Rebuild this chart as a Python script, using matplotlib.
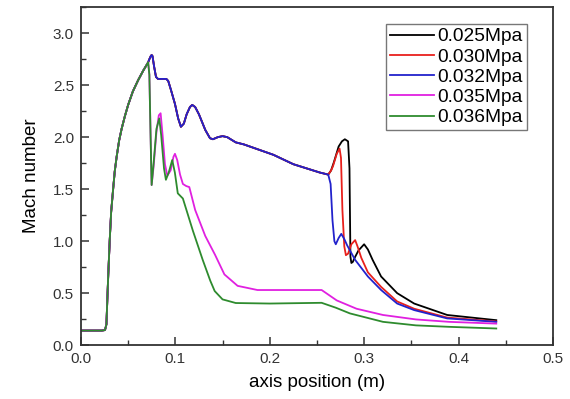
import matplotlib.pyplot as plt
from matplotlib.ticker import MultipleLocator

plt.rcParams['font.family'] = ['Liberation Sans', 'DejaVu Sans']

# common rise of all curves (inlet region)
x_rise = [0.0, 0.022, 0.0255, 0.027, 0.028, 0.029, 0.0305, 0.032, 0.034, 0.0358,
          0.0378, 0.0405, 0.0431, 0.0465, 0.050, 0.055, 0.0607, 0.066, 0.0706, 0.0712]
y_rise = [0.14, 0.14, 0.145, 0.2, 0.45, 0.69, 1.01, 1.28, 1.49, 1.67,
          1.81, 1.97, 2.08, 2.2, 2.31, 2.44, 2.55, 2.64, 2.71, 2.72]

# 0.032 MPa upper branch (shared by 0.025 / 0.030 up to the shock)
x_upper = [0.0725, 0.074, 0.0749, 0.0758, 0.0775, 0.0795, 0.0816, 0.086, 0.0905, 0.0925,
           0.0955, 0.0996, 0.103, 0.1059, 0.109, 0.112, 0.1155, 0.1179, 0.121, 0.125,
           0.1317, 0.1367, 0.1398, 0.145, 0.150, 0.155, 0.164, 0.1727, 0.204, 0.225,
           0.253, 0.262]
y_upper = [2.75, 2.78, 2.79, 2.78, 2.68, 2.58, 2.56, 2.56, 2.56, 2.54,
           2.45, 2.32, 2.18, 2.10, 2.13, 2.22, 2.29, 2.31, 2.29, 2.22,
           2.07, 1.99, 1.98, 2.00, 2.01, 2.00, 1.95, 1.93, 1.83, 1.74,
           1.66, 1.64]

# tails after the shock
x_tail_025 = [0.265, 0.268, 0.273, 0.2765, 0.2796, 0.283, 0.2845, 0.2855, 0.2865, 0.288,
              0.290, 0.294, 0.300, 0.304, 0.309, 0.318, 0.335, 0.353, 0.388, 0.44]
y_tail_025 = [1.68, 1.76, 1.91, 1.96, 1.98, 1.96, 1.70, 0.85, 0.79, 0.80,
              0.84, 0.91, 0.97, 0.92, 0.82, 0.66, 0.50, 0.40, 0.29, 0.24]

x_tail_030 = [0.265, 0.267, 0.271, 0.274, 0.2755, 0.277, 0.279, 0.2807, 0.283, 0.2865,
              0.2905, 0.293, 0.297, 0.304, 0.318, 0.335, 0.353, 0.388, 0.44]
y_tail_030 = [1.68, 1.72, 1.84, 1.89, 1.80, 1.30, 0.95, 0.865, 0.88, 0.97,
              1.01, 0.95, 0.84, 0.70, 0.56, 0.42, 0.35, 0.265, 0.228]

x_tail_032 = [0.2645, 0.2665, 0.2685, 0.270, 0.273, 0.2758, 0.279, 0.282, 0.2905, 0.304,
              0.318, 0.335, 0.353, 0.388, 0.44]
y_tail_032 = [1.55, 1.20, 1.00, 0.97, 1.03, 1.07, 1.02, 0.96, 0.82, 0.66,
              0.53, 0.40, 0.337, 0.257, 0.224]

# 0.035 MPa and 0.036 MPa after the first drop
x_035 = [0.0725, 0.0738, 0.0749, 0.077, 0.080, 0.0825, 0.0844, 0.0865, 0.089, 0.0915,
         0.095, 0.098, 0.0996, 0.102, 0.105, 0.108, 0.1115, 0.1148, 0.121, 0.1317,
         0.142, 0.152, 0.166, 0.187, 0.255, 0.271, 0.292, 0.32, 0.355, 0.39, 0.44]
y_035 = [2.6, 2.0, 1.54, 1.72, 2.05, 2.21, 2.23, 2.02, 1.74, 1.63,
         1.68, 1.81, 1.84, 1.78, 1.64, 1.55, 1.53, 1.52, 1.30, 1.05,
         0.87, 0.68, 0.57, 0.53, 0.53, 0.43, 0.35, 0.29, 0.247, 0.224, 0.207]

x_036 = [0.0725, 0.0738, 0.0749, 0.077, 0.080, 0.083, 0.085, 0.088, 0.090, 0.093,
         0.0967, 0.0995, 0.1026, 0.108, 0.1186, 0.129, 0.137, 0.1417, 0.150, 0.164,
         0.2, 0.255, 0.27, 0.285, 0.32, 0.355, 0.39, 0.44]
y_036 = [2.6, 2.0, 1.54, 1.75, 2.08, 2.18, 2.02, 1.70, 1.59, 1.66,
         1.78, 1.66, 1.46, 1.41, 1.10, 0.82, 0.62, 0.52, 0.44, 0.405,
         0.40, 0.407, 0.36, 0.305, 0.224, 0.19, 0.176, 0.16]

labels = ['0.025Mpa', '0.030Mpa', '0.032Mpa', '0.035Mpa', '0.036Mpa']
colors = ['black', '#e8201c', '#2222cc', '#e020e0', '#2e8b2e']

series = [
    (x_rise + x_upper + x_tail_025, y_rise + y_upper + y_tail_025),
    (x_rise + x_upper + x_tail_030, y_rise + y_upper + y_tail_030),
    (x_rise + x_upper + x_tail_032, y_rise + y_upper + y_tail_032),
    (x_rise + x_035, y_rise + y_035),
    (x_rise + x_036, y_rise + y_036),
]

fig = plt.figure(figsize=(5.7, 3.99), dpi=100)
ax = fig.add_axes([0.142, 0.135, 0.828, 0.847])

for (xs, ys), lab, c in zip(series, labels, colors):
    ax.plot(xs, ys, color=c, lw=1.3, label=lab, solid_joinstyle='round')

ax.set_xlim(0, 0.5)
ax.set_ylim(0, 3.25)
ax.xaxis.set_major_locator(MultipleLocator(0.1))
ax.xaxis.set_minor_locator(MultipleLocator(0.05))
ax.yaxis.set_major_locator(MultipleLocator(0.5))
ax.yaxis.set_minor_locator(MultipleLocator(0.25))
ax.tick_params(which='both', direction='in', labelsize=11, colors='#333333')
ax.tick_params(which='major', length=6, width=1.1, pad=5)
ax.tick_params(which='minor', length=3.5, width=1.0)
for s in ax.spines.values():
    s.set_linewidth(1.3)
    s.set_color('#333333')

ax.set_xlabel('axis position (m)', fontsize=13.5, labelpad=6)
ax.set_ylabel('Mach number', fontsize=13.5, labelpad=9)

leg = ax.legend(loc='upper right', bbox_to_anchor=(0.945, 0.95), fontsize=13.8,
                frameon=True, fancybox=False, handlelength=2.3, handletextpad=0.2,
                borderpad=0.2, labelspacing=0.15, borderaxespad=0.0)
leg.get_frame().set_edgecolor('#555555')
leg.get_frame().set_linewidth(1.0)

fig.savefig('out.png', dpi=100)
